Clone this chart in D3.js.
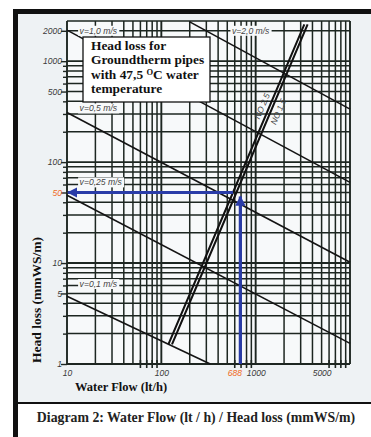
<!DOCTYPE html>
<html>
<head>
<meta charset="utf-8">
<script src="https://cdn.jsdelivr.net/npm/d3@7"></script>
<style>
  body { margin: 0; background: #ffffff; }
  svg { display: block; }
</style>
</head>
<body>
<div id="chart"></div>
<script>
// tick labels
const flowTicks = [10, 100, 688, 1000, 5000];
const headTicks = [1, 5, 10, 50, 100, 500, 1000, 2000];
const highlightFlow = 688;
const highlightHead = 50;

// velocity lines (lt/h, mmWS/m)
const velocityNames = ["v=0,1 m/s", "v=0,25 m/s", "v=0,5 m/s", "v=1,0 m/s", "v=2,0 m/s"];
const velocityFlow = [[10, 330], [10, 10000], [10, 10000], [10, 10000], [200, 10000]];
const velocityHead = [[4.7, 1], [47, 1.6], [310, 10.2], [2030, 63], [2450, 335]];
const velocityLabelFlow = [13.6, 13.6, 13.6, 13.6, 560];
const velocityLabelHead = [6.2, 63, 340, 2000, 2000];

// pipe curves
const pipeNames = ["NO 2,5", "NO 1,5"];
const pipeFlow = [[120, 575, 3250], [131, 625, 3520]];
const pipeHead = [[1.6, 50, 2270], [1.6, 50, 2270]];

const title = ["Head loss for", "Groundtherm pipes", "with 47,5 ", "temperature"];

const svgWidth = 371;
const svgHeight = 437;
const margin = { top: 21, right: 21, bottom: 73, left: 67 };
const plotRight = svgWidth - margin.right;
const plotBottom = svgHeight - margin.bottom;

const gridColor = "#1d2621";
const blue = "#2a3ca8";
const orange = "#f06a1c";
const plotBg = "#f7f9fa";

const svg = d3.select("#chart").append("svg")
  .attr("width", svgWidth)
  .attr("height", svgHeight);

// frame
svg.append("rect").attr("x", 18).attr("y", 13).attr("width", svgWidth - 18).attr("height", 390)
  .attr("fill", "#eef2f4");
svg.append("rect").attr("x", margin.left).attr("y", margin.top)
  .attr("width", plotRight - margin.left).attr("height", plotBottom - margin.top)
  .attr("fill", plotBg);
svg.append("rect").attr("x", 13).attr("y", 9).attr("width", svgWidth - 13).attr("height", 5).attr("fill", "#111");
svg.append("rect").attr("x", 13).attr("y", 9).attr("width", 5).attr("height", svgHeight - 9).attr("fill", "#111");
svg.append("rect").attr("x", 18).attr("y", 402).attr("width", svgWidth - 18).attr("height", 2).attr("fill", "#111");

const x = d3.scaleLog().domain([10, 10000]).range([margin.left, plotRight]);
const y = d3.scaleLog().domain([1, 2500]).range([plotBottom, margin.top]);

// grid
const g = svg.append("g");
g.selectAll(".vgrid").data(x.ticks()).join("line")
  .attr("x1", d => x(d)).attr("x2", d => x(d))
  .attr("y1", margin.top).attr("y2", plotBottom)
  .attr("stroke", gridColor)
  .attr("stroke-width", d => Math.log10(d) % 1 === 0 ? 1.9 : 1.5);
g.selectAll(".hgrid").data(y.ticks().concat([2500])).join("line")
  .attr("x1", margin.left).attr("x2", plotRight)
  .attr("y1", d => y(d)).attr("y2", d => y(d))
  .attr("stroke", gridColor)
  .attr("stroke-width", d => Math.log10(d) % 1 === 0 ? 1.9 : 1.5);

// axes
const fmt = d3.format("d");
const xAxis = svg.append("g")
  .attr("transform", "translate(0," + plotBottom + ")")
  .call(d3.axisBottom(x).tickValues(flowTicks).tickSize(0).tickPadding(6).tickFormat(fmt));
const minorFlow = x.ticks().filter(d => {
  const m = d / Math.pow(10, Math.floor(Math.log10(d) + 1e-9));
  return Math.round(m) >= 6;
});
svg.append("g").selectAll("line").data(minorFlow).join("line")
  .attr("x1", d => x(d)).attr("x2", d => x(d))
  .attr("y1", plotBottom - 4).attr("y2", plotBottom + 4)
  .attr("stroke", gridColor).attr("stroke-width", 1.6);

const yAxis = svg.append("g")
  .attr("transform", "translate(" + margin.left + ",0)")
  .call(d3.axisLeft(y).tickValues(y.ticks()).tickSize(4).tickPadding(1)
    .tickFormat(d => headTicks.includes(d) ? fmt(d) : ""));

[xAxis, yAxis].forEach(a => {
  a.select(".domain").remove();
  a.selectAll("text")
    .attr("font-family", "Liberation Sans, Arial, sans-serif")
    .attr("font-style", "italic")
    .attr("font-size", 8.5)
    .attr("fill", "#3a3a3a");
  a.selectAll("line").attr("stroke", gridColor).attr("stroke-width", 1.4);
});
yAxis.selectAll(".tick").filter(d => headTicks.includes(d)).select("line").attr("x2", -6);
xAxis.selectAll(".tick").filter(d => d === highlightFlow).select("text")
  .attr("fill", orange).attr("dx", -6);
yAxis.selectAll(".tick").filter(d => d === highlightHead).select("text").attr("fill", orange);

// velocity lines
const line = d3.line().x(d => x(d[0])).y(d => y(d[1]));
velocityNames.forEach((name, i) => {
  const pts = velocityFlow[i].map((q, j) => [q, velocityHead[i][j]]);
  svg.append("path").attr("d", line(pts))
    .attr("fill", "none").attr("stroke", "#141414").attr("stroke-width", 1.6);
});
velocityNames.forEach((name, i) => {
  const lg = svg.append("g")
    .attr("transform", "translate(" + x(velocityLabelFlow[i]) + "," + y(velocityLabelHead[i]) + ")");
  const t = lg.append("text").text(name)
    .attr("dy", "0.35em")
    .attr("font-family", "Liberation Sans, Arial, sans-serif")
    .attr("font-style", "italic")
    .attr("font-size", 8.6)
    .attr("fill", "#444");
  const b = t.node().getBBox();
  lg.insert("rect", "text")
    .attr("x", b.x - 1.5).attr("y", b.y).attr("width", b.width + 3).attr("height", b.height)
    .attr("fill", plotBg);
});

// pipe curves
pipeNames.forEach((name, i) => {
  const pts = pipeFlow[i].map((q, j) => [q, pipeHead[i][j]]);
  svg.append("path").attr("d", line(pts))
    .attr("fill", "none").attr("stroke", "#111").attr("stroke-width", 2)
    .attr("stroke-linecap", "square");
});
pipeNames.forEach((name, i) => {
  const f = pipeFlow[i], h = pipeHead[i];
  const ang = Math.atan2(y(h[2]) - y(h[1]), x(f[2]) - x(f[1])) * 180 / Math.PI;
  const q = Math.pow(10, d3.interpolate(Math.log10(f[1]), Math.log10(f[2]))(0.5));
  const hv = Math.pow(10, d3.interpolate(Math.log10(h[1]), Math.log10(h[2]))(0.5));
  svg.append("text").text(name)
    .attr("transform", "translate(" + x(q) + "," + y(hv) + ") rotate(" + ang + ")")
    .attr("text-anchor", "middle")
    .attr("dy", i === 0 ? -4 : 10)
    .attr("font-family", "Liberation Sans, Arial, sans-serif")
    .attr("font-style", "italic")
    .attr("font-size", 8.5)
    .attr("fill", "#444");
});

// reading arrows
const defs = svg.append("defs");
defs.append("marker").attr("id", "arrow")
  .attr("viewBox", "0 0 10 10").attr("refX", 9).attr("refY", 5)
  .attr("markerWidth", 3.2).attr("markerHeight", 3.2).attr("orient", "auto")
  .append("path").attr("d", "M0,0 L10,5 L0,10 z").attr("fill", blue);

svg.append("line")
  .attr("x1", x(highlightFlow)).attr("x2", x(highlightFlow))
  .attr("y1", plotBottom).attr("y2", y(highlightHead) + 4)
  .attr("stroke", blue).attr("stroke-width", 3.2).attr("marker-end", "url(#arrow)");
svg.append("line")
  .attr("x1", x(pipeFlow[0][1])).attr("x2", x(10) + 1)
  .attr("y1", y(highlightHead)).attr("y2", y(highlightHead))
  .attr("stroke", blue).attr("stroke-width", 3.2).attr("marker-end", "url(#arrow)");

// title box
svg.append("rect").attr("x", 83).attr("y", 37).attr("width", 127).attr("height", 65)
  .attr("fill", "#fff").attr("stroke", "#111").attr("stroke-width", 1.3);
const tt = svg.append("text")
  .attr("font-family", "Liberation Serif, Times New Roman, serif")
  .attr("font-weight", "bold").attr("font-size", 13.4).attr("fill", "#111");
title.forEach((s, i) => {
  tt.append("tspan").attr("x", 91).attr("y", 49.5 + i * 14.5).text(s);
  if (i === 2) {
    tt.append("tspan").attr("font-size", 8.5).attr("dy", -4).text("O");
    tt.append("tspan").attr("dy", 4).text("C water");
  }
});

// axis titles
svg.append("text").text("Head loss (mmWS/m)")
  .attr("transform", "translate(41,300) rotate(-90)")
  .attr("text-anchor", "middle")
  .attr("font-family", "Liberation Serif, Times New Roman, serif")
  .attr("font-weight", "bold").attr("font-size", 13.5).attr("fill", "#111");
svg.append("text").text("Water Flow (lt/h)")
  .attr("x", 75).attr("y", 391)
  .attr("font-family", "Liberation Serif, Times New Roman, serif")
  .attr("font-weight", "bold").attr("font-size", 12.5).attr("fill", "#111");

// caption
svg.append("text").text("Diagram 2: Water Flow (lt / h) / Head loss (mmWS/m)")
  .attr("x", 196).attr("y", 422)
  .attr("text-anchor", "middle")
  .attr("font-family", "Liberation Serif, Times New Roman, serif")
  .attr("font-weight", "bold").attr("font-size", 13.8).attr("fill", "#222");
</script>
</body>
</html>
